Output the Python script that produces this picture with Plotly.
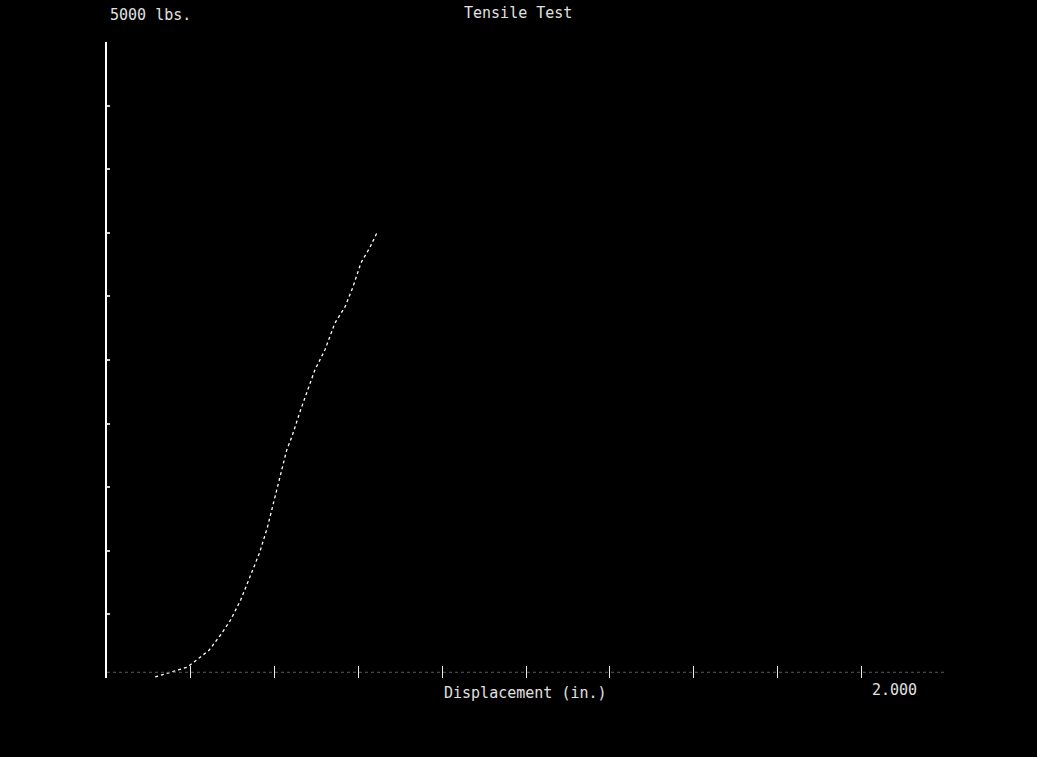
import plotly.graph_objects as go

# Load vs. displacement readings from the tensile test
displacement_in = [0.115, 0.144, 0.168, 0.192, 0.223, 0.244, 0.271, 0.295, 0.319,
                   0.343, 0.364, 0.383, 0.403, 0.414, 0.429, 0.441, 0.462, 0.496,
                   0.520, 0.544, 0.568, 0.587, 0.606, 0.628, 0.644]
load_lbs = [8, 39, 63, 86, 165, 220, 338, 456, 613,
            810, 983, 1187, 1454, 1612, 1793, 1895, 2107, 2421,
            2579, 2791, 2917, 3074, 3263, 3388, 3499]

x_max = 2.0
y_max = 5000
title_text = "Tensile Test"
x_label = "Displacement (in.)"
y_max_label = "5000 lbs."
x_max_label = "2.000"

W, H = 1037, 757
L, R, T, B = 107, 92, 42, 79
plot_w = W - L - R
plot_h = H - T - B


def px_x(px):
    return (px - L) / plot_w


def px_y(py):
    return (H - B - py) / plot_h


font = dict(family="DejaVu Sans Mono, monospace", size=15, color="#e0e0e0")

fig = go.Figure()
fig.add_trace(go.Scatter(
    x=displacement_in, y=load_lbs, mode="lines",
    line=dict(color="white", width=1.3, dash="dot", shape="linear"),
    hoverinfo="skip", showlegend=False,
))

# faint dotted baseline along the displacement axis
fig.add_shape(type="line", xref="x", yref="y", x0=0, x1=x_max, y0=45, y1=45,
              line=dict(color="#5a5a5a", width=1, dash="dot"))

fig.update_layout(
    width=W, height=H,
    paper_bgcolor="black", plot_bgcolor="black",
    margin=dict(l=L, r=R, t=T, b=B),
    showlegend=False,
    xaxis=dict(range=[0, x_max], dtick=0.2, tick0=0, showgrid=False, zeroline=False,
               showline=False, ticks="inside", ticklen=12, tickwidth=1,
               tickcolor="#e8e8e8", showticklabels=False),
    yaxis=dict(range=[0, y_max], dtick=500, tick0=0, showgrid=False, zeroline=False,
               showline=True, linecolor="white", linewidth=1.5,
               ticks="inside", ticklen=3, tickwidth=2, tickcolor="#cccccc",
               showticklabels=False),
    annotations=[
        dict(text=title_text, x=px_x(518), y=px_y(13), xref="paper", yref="paper",
             showarrow=False, xanchor="center", yanchor="middle", font=font),
        dict(text=y_max_label, x=px_x(108), y=px_y(15), xref="paper", yref="paper",
             showarrow=False, xanchor="left", yanchor="middle", font=font),
        dict(text=x_label, x=px_x(525), y=px_y(693), xref="paper", yref="paper",
             showarrow=False, xanchor="center", yanchor="middle", font=font),
        dict(text=x_max_label, x=px_x(894), y=px_y(690), xref="paper", yref="paper",
             showarrow=False, xanchor="center", yanchor="middle", font=font),
    ],
)

fig.write_html("out.html")
